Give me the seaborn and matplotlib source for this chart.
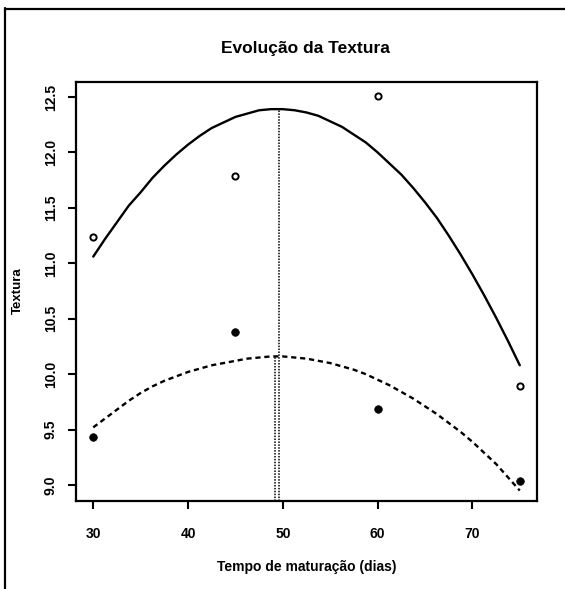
import matplotlib
matplotlib.use("Agg")
import matplotlib.pyplot as plt
from matplotlib.lines import Line2D
import seaborn as sns
import pandas as pd

# ---- data ----
days = [30, 45, 60, 75]
textura_aberto = [11.24, 11.79, 12.51, 9.89]     # open circles
textura_cheio = [9.43, 10.38, 9.69, 9.04]         # filled circles

curve_days = [30, 31.25, 32.5, 33.75, 35, 36.25, 37.5, 38.75, 40, 41.25,
              42.5, 43.75, 45, 46.25, 47.5, 48.75, 50, 51.25, 52.5, 53.75,
              55, 56.25, 57.5, 58.75, 60, 61.25, 62.5, 63.75, 65, 66.25,
              67.5, 68.75, 70, 71.25, 72.5, 73.75, 75]
curve_solid = [11.06, 11.22, 11.37, 11.52, 11.64, 11.77, 11.88, 11.98, 12.07,
               12.15, 12.22, 12.27, 12.32, 12.35, 12.38, 12.39, 12.39, 12.38,
               12.36, 12.33, 12.28, 12.23, 12.16, 12.09, 12.00, 11.90, 11.80,
               11.68, 11.55, 11.41, 11.25, 11.08, 10.90, 10.71, 10.51, 10.30,
               10.08]
curve_dashed = [9.52, 9.60, 9.68, 9.76, 9.83, 9.89, 9.94, 9.98, 10.02, 10.05,
                10.08, 10.10, 10.12, 10.14, 10.15, 10.16, 10.16, 10.15, 10.14,
                10.12, 10.10, 10.07, 10.04, 10.00, 9.95, 9.90, 9.84, 9.78,
                9.71, 9.64, 9.56, 9.48, 9.39, 9.29, 9.19, 9.07, 8.95]

peak_x = [49.6, 49.2]
peak_y = [12.39, 10.16]

x_ticks = [30, 40, 50, 60, 70]
y_ticks = [9.0, 9.5, 10.0, 10.5, 11.0, 11.5, 12.0, 12.5]

title = "Evolução da Textura"
xlabel = "Tempo de maturação (dias)"
ylabel = "Textura"

# ---- style ----
sns.set_style("ticks")
plt.rcParams["font.family"] = ["Liberation Sans", "DejaVu Sans"]
plt.rcParams["font.weight"] = "bold"
for k in ["text.color", "axes.labelcolor", "xtick.color", "ytick.color",
          "axes.edgecolor"]:
    plt.rcParams[k] = "black"

fig = plt.figure(figsize=(5.65, 5.89), dpi=100)
ax = fig.add_axes([0.134, 0.1494, 0.817, 0.7114])

pts = pd.DataFrame({"x": days, "a": textura_aberto, "c": textura_cheio})
cur = pd.DataFrame({"x": curve_days, "s": curve_solid, "d": curve_dashed})

sns.lineplot(data=cur, x="x", y="s", ax=ax, color="black", lw=1.7,
             linestyle="-", sort=False)
sns.lineplot(data=cur, x="x", y="d", ax=ax, color="black", lw=1.7,
             linestyle=(0, (2.2, 1.6)), sort=False)

ylo, yhi = 8.856, 12.635
for px, py in zip(peak_x, peak_y):
    ax.vlines(px, ylo, py, colors="black", lw=1.1, linestyles=(0, (1.0, 0.9)))

sns.scatterplot(data=pts, x="x", y="a", ax=ax, marker="o", s=20,
                facecolor="white", edgecolor="black", linewidth=1.4, zorder=5)
sns.scatterplot(data=pts, x="x", y="c", ax=ax, marker="o", s=30,
                color="black", edgecolor="black", linewidth=0.5, zorder=5)

ax.set_xlim(28.15, 76.85)
ax.set_ylim(ylo, yhi)
ax.set_xticks(x_ticks)
ax.set_yticks(y_ticks)
ax.set_xticklabels([str(t) for t in x_ticks], fontsize=10, fontweight="bold")
ax.set_yticklabels([f"{t:.1f}" for t in y_ticks], fontsize=10,
                   fontweight="bold", rotation=90, va="center")
ax.tick_params(axis="both", direction="out", length=6, width=1.5,
               color="black")
ax.tick_params(axis="x", pad=13)
ax.tick_params(axis="y", pad=7)
for sp in ax.spines.values():
    sp.set_visible(True)
    sp.set_linewidth(1.6)
    sp.set_color("black")

ax.set_xlabel("")
ax.set_ylabel("")
fig.text(0.543, 1 - 567 / 589, xlabel, ha="center", va="center",
         fontsize=10, fontweight="bold")
fig.text(18 / 565, 1 - 291 / 589, ylabel, ha="center", va="center",
         rotation=90, fontsize=9.5, fontweight="bold")
fig.text(305 / 565, 1 - 49 / 589, title, ha="center", va="center",
         fontsize=12.5, fontweight="bold")

# outer frame (left and top edges of the scanned page)
fig.add_artist(Line2D([5 / 565, 5 / 565], [0, 1 - 8 / 589],
                      transform=fig.transFigure, color="black", lw=1.6))
fig.add_artist(Line2D([5 / 565, 1], [1 - 9 / 589, 1 - 9 / 589],
                      transform=fig.transFigure, color="black", lw=1.6))

fig.savefig("out.png", dpi=100)
